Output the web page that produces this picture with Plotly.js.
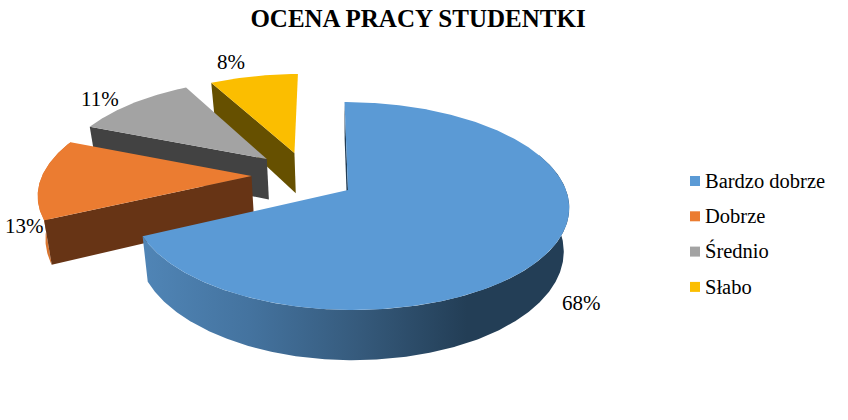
<!DOCTYPE html>
<html><head><meta charset="utf-8">
<script src="https://cdn.plot.ly/plotly-3.0.1.min.js"></script>
<style>html,body{margin:0;padding:0;background:#fff}#c{width:848px;height:420px}</style>
</head><body><div id="c"></div>
<script>
// ---- data ----
const categories = ['Bardzo dobrze', 'Dobrze', 'Średnio', 'Słabo'];
const values = [68, 13, 11, 8];
const chartTitle = 'OCENA PRACY STUDENTKI';

// ---- styles ----
const topColors = ['#5b9ad5', '#eb7c31', '#a3a3a3', '#fbbe00'];
const wallColors = ['#223d55', '#673415', '#424242', '#665000'];
const rimColors = [null, '#d9742e', null, null];
const explode = [[0, 0], [-0.458, -0.14], [-0.392, -0.32], [-0.258, -0.386]];
const labelShift = [[31, 54], [-16, 47], [-32, -4], [-23, -14]];
const blueGradient = [[0, '#5085b6'], [0.25, '#44739f'], [0.5, '#365b7d'], [0.76, '#233e56'], [1, '#233e56']];

// ---- 3D pie projection ----
const x0 = 348, y0 = 190, axRight = 218, axLeft = 214, by = 101.5, persp = 0.154, shear = 4, depth = 42.5, shrink = 0.975;
function project(X, Y, lower) {
  const w = 1 / (1 - persp * Y);
  let x = x0 + ((X < 0 ? axLeft : axRight) * X + shear * Y) * w;
  let y = y0 + by * Y * w;
  if (lower) { x = x0 + (x - x0) * shrink; y += depth * w; }
  return [x, y];
}
const total = values.reduce((a, b) => a + b, 0);
let acc = 0;
const slices = values.map((v, i) => {
  const start = acc / total * 2 * Math.PI;
  acc += v;
  return { i, start, end: acc / total * 2 * Math.PI, ex: explode[i] };
});
const rimWorld = (s, t) => [s.ex[0] + Math.sin(t), s.ex[1] - Math.cos(t)];
function arc(s, a, b, lower) {
  const n = Math.max(2, Math.ceil(Math.abs(b - a) / 0.01)), pts = [];
  for (let k = 0; k <= n; k++) {
    const w = rimWorld(s, a + (b - a) * k / n);
    pts.push(project(w[0], w[1], lower));
  }
  return pts;
}
function poly(pts, color, grad) {
  const tr = {
    type: 'scatter', mode: 'lines', x: pts.map(p => p[0]).concat(pts[0][0]), y: pts.map(p => p[1]).concat(pts[0][1]),
    fill: 'toself', line: { width: 0 }, hoverinfo: 'skip', showlegend: false, fillcolor: color
  };
  if (grad) { tr.fillgradient = { type: 'horizontal', colorscale: grad }; }
  return tr;
}
function radialWall(s, t) {
  const c = s.ex;
  return [project(c[0], c[1], false), arc(s, t, t, false)[0], arc(s, t, t, true)[0], project(c[0], c[1], true)];
}
function topFace(s) { return [project(s.ex[0], s.ex[1], false), ...arc(s, s.start, s.end, false)]; }

const traces = [];
// far slices first, the large one last
[3, 2, 1, 0].forEach(i => {
  const s = slices[i];
  if (i === 0) {
    traces.push(poly(radialWall(s, s.start), wallColors[0]));
    const a = 1.2, b = s.end;
    traces.push(poly([...arc(s, a, b, false), ...arc(s, a, b, true).reverse()], wallColors[0], blueGradient));
  } else {
    if (rimColors[i]) traces.push(poly([...arc(s, s.start, s.end, false), ...arc(s, s.start, s.end, true).reverse()], rimColors[i]));
    traces.push(poly(radialWall(s, s.start), wallColors[i]));
  }
  traces.push(poly(topFace(s), topColors[i]));
});

// percentage labels, anchored on the middle of each rim
const annotations = slices.map(s => {
  const w = rimWorld(s, (s.start + s.end) / 2), p = project(w[0], w[1], false);
  return {
    x: p[0] + labelShift[s.i][0], y: p[1] + labelShift[s.i][1], xref: 'x', yref: 'y', showarrow: false,
    text: Math.round(values[s.i] / total * 100) + '%', font: { family: 'Liberation Serif', size: 21, color: '#000' }
  };
});

// legend column
traces.push({
  type: 'scatter', mode: 'markers', x: categories.map(() => 695), y: categories.map((c, i) => 181 + 35.3 * i),
  hoverinfo: 'skip', showlegend: false,
  marker: { symbol: 'square', size: 10, color: topColors, line: { width: 0 } }
});
traces.push({
  type: 'scatter', mode: 'text', x: categories.map(() => 705), y: categories.map((c, i) => 182.5 + 35.3 * i),
  text: categories, textposition: 'middle right', hoverinfo: 'skip', showlegend: false,
  textfont: { family: 'Liberation Serif', size: 20.5, color: '#000' }
});

Plotly.newPlot('c', traces, {
  width: 848, height: 420, margin: { l: 0, r: 0, t: 0, b: 0 }, paper_bgcolor: '#fff', plot_bgcolor: '#fff',
  showlegend: false,
  title: { text: '<b>' + chartTitle + '</b>', x: 418 / 848, xanchor: 'center', y: 1 - 18 / 420, yanchor: 'middle',
    font: { family: 'Liberation Serif', size: 25, color: '#000' } },
  xaxis: { range: [0, 848], visible: false, fixedrange: true },
  yaxis: { range: [420, 0], visible: false, fixedrange: true },
  annotations
}, { displayModeBar: false, staticPlot: true });
</script></body></html>
